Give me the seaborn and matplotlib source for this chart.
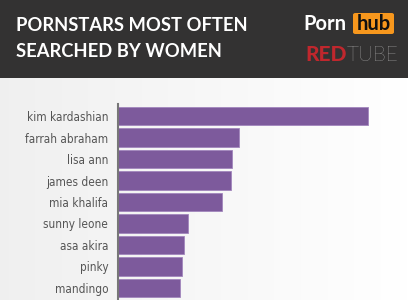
import numpy as np
import pandas as pd
import seaborn as sns
import matplotlib
matplotlib.use("Agg")
import matplotlib.pyplot as plt
from matplotlib.patches import Rectangle, FancyBboxPatch

names = ["kim kardashian", "farrah abraham", "lisa ann", "james deen", "mia khalifa",
         "sunny leone", "asa akira", "pinky", "mandingo"]
values = [100, 48.2, 45.4, 45.0, 41.4, 28.1, 26.5, 25.7, 24.9]
title_lines = ["PORNSTARS MOST OFTEN", "SEARCHED BY WOMEN"]

sns.set_theme(style="white")
plt.rcParams["font.family"] = ["Lato", "DejaVu Sans"]

W, H = 408, 300
fig = plt.figure(figsize=(W / 100, H / 100), dpi=100)

# background gradient (light gray left -> white right)
bg = fig.add_axes([0, 0, 1, 1])
grad = np.linspace(0.94, 1.0, 256)[None, :]
bg.imshow(np.dstack([grad, grad, grad]), aspect="auto", extent=[0, 1, 0, 1])
bg.set_axis_off()

# header band
fig.patches.append(Rectangle((0, 1 - 78 / H), 1, 78 / H, transform=fig.transFigure,
                             facecolor="#333232", edgecolor="none", zorder=1))
fig.text(16 / W, 1 - 31 / H, title_lines[0], color="white", fontsize=13.2,
         fontweight="bold", family=["Lato", "DejaVu Sans"], va="baseline", ha="left")
fig.text(16 / W, 1 - 57 / H, title_lines[1], color="white", fontsize=13.2,
         fontweight="bold", family=["Lato", "DejaVu Sans"], va="baseline", ha="left")

# logos
fig.text(303 / W, 1 - 30 / H, "Porn", color="white", fontsize=14.5, fontweight="bold",
         family=["Lato", "DejaVu Sans"], va="baseline", ha="left")
fig.patches.append(FancyBboxPatch((353 / W, 1 - 34 / H), 41 / W, 21 / H,
                                  boxstyle="round,pad=0,rounding_size=0.006",
                                  transform=fig.transFigure, facecolor="#f7971d",
                                  edgecolor="none", zorder=2))
fig.text(373.5 / W, 1 - 30 / H, "hub", color="#111111", fontsize=14.5, fontweight="bold",
         family=["Lato", "DejaVu Sans"], va="baseline", ha="center", zorder=3)
red = fig.text(305 / W, 1 - 61 / H, "RED", color="#c0272d", fontsize=15, fontweight="black",
               family=["Lato", "DejaVu Sans"], va="baseline", ha="left")
fig.canvas.draw()
red_x1 = red.get_window_extent().x1
fig.text(red_x1 / W + 0.5 / W, 1 - 61 / H, "TUBE", color="#dddddd", fontsize=15,
         fontweight="light", family=["Lato", "DejaVu Sans"], va="baseline", ha="left")

# bar chart axes
left_px, right_px, top_px = 118, 390, 104
ax = fig.add_axes([left_px / W, 0, (right_px - left_px) / W, (H - top_px) / H])
ax.patch.set_alpha(0)
df = pd.DataFrame({"name": names, "value": values})
sns.barplot(data=df, y="name", x="value", orient="h", color="#7d5a9c",
            saturation=1, width=0.87, edgecolor="#a286bd", linewidth=0.6, ax=ax)
ax.set_xlim(0, 100 * (right_px - left_px) / 250)
ax.set_ylim(8.56, -0.56)
ax.set_xlabel("")
ax.set_ylabel("")
ax.set_xticks([])
for s in ["top", "right", "bottom"]:
    ax.spines[s].set_visible(False)
ax.spines["left"].set_color("#777777")
ax.spines["left"].set_linewidth(1.5)
ax.tick_params(axis="y", length=0, pad=7, labelsize=8.5, labelcolor="#555555")
for lab in ax.get_yticklabels():
    lab.set_family(["DejaVu Sans"])
    lab.set_fontstretch("condensed")

fig.savefig("out.png", dpi=100)
